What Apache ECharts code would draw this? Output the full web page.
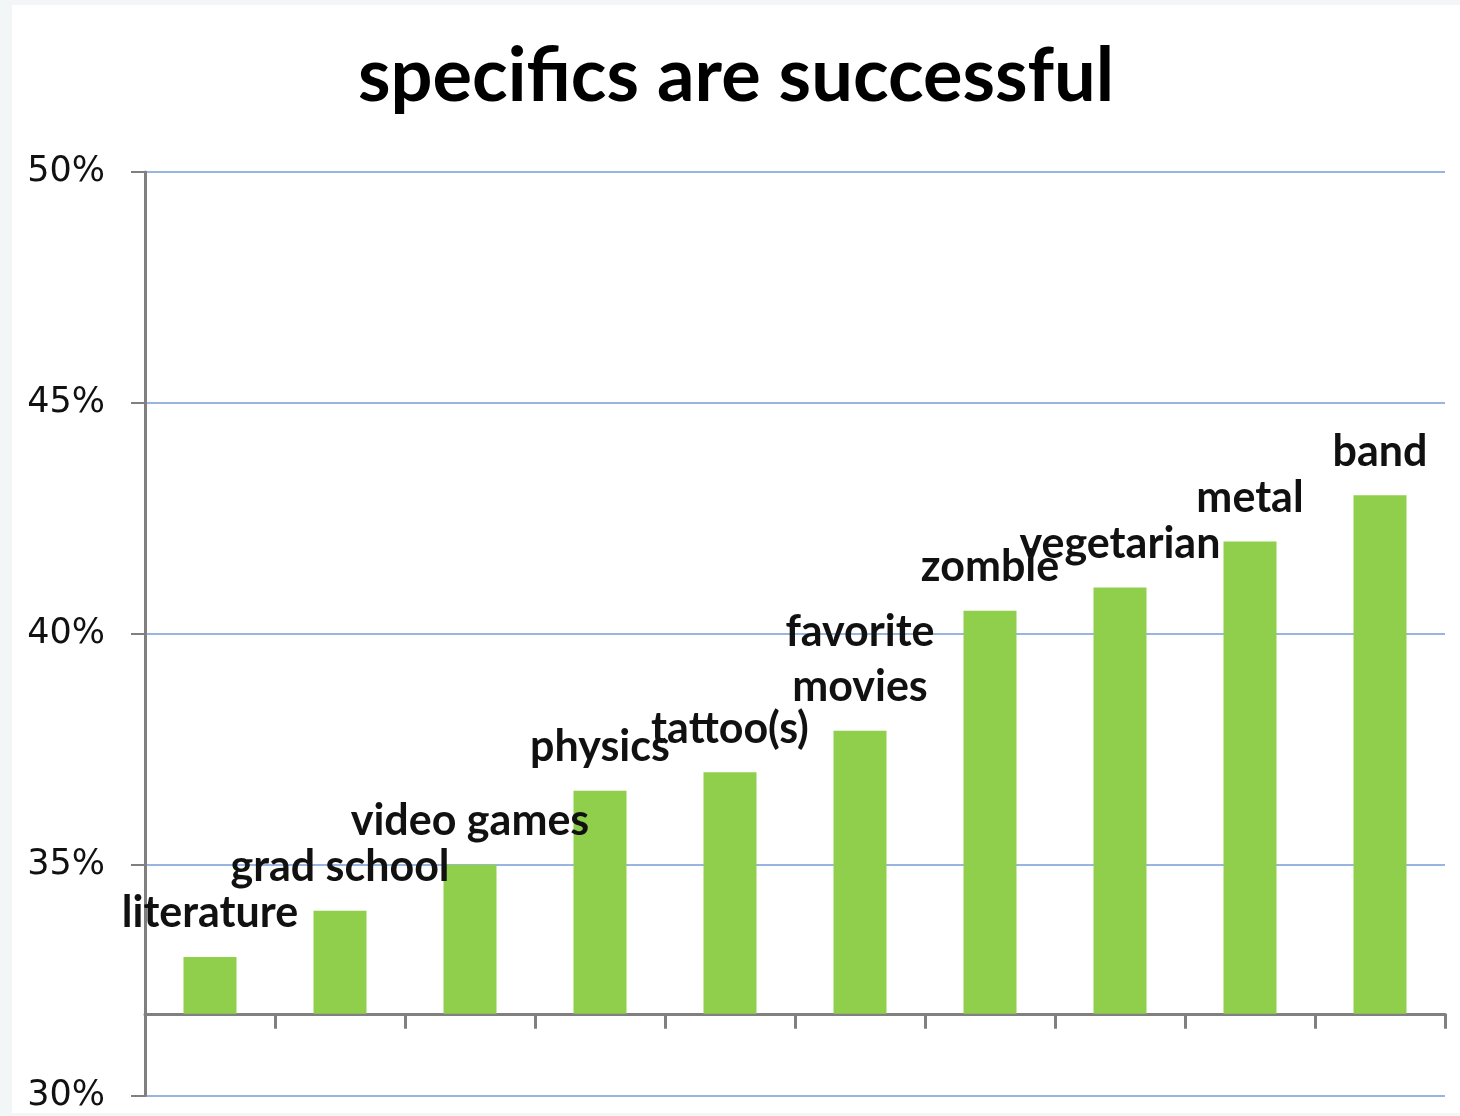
<!DOCTYPE html>
<html>
<head>
  <meta charset="UTF-8">
  <title>specifics are successful</title>
  <script src="https://cdn.jsdelivr.net/npm/echarts@6/dist/echarts.min.js"></script>
  <style>
    body {
      margin: 0;
      padding: 0;
      background: #f3f6f6;
    }

    #chart {
      position: absolute;
      left: 12px;
      top: 5px;
      width: 1448px;
      height: 1108px;
      background: #ffffff;
    }
  </style>
</head>
<body>
  <div id="chart"></div>

  <script>
    // data
    var categories = ['literature', 'grad school', 'video games', 'physics', 'tattoo(s)',
      'favorite movies', 'zombie', 'vegetarian', 'metal', 'band'];
    var shares = [33.0, 34.0, 35.0, 36.6, 37.0, 37.9, 40.5, 41.0, 42.0, 43.0];
    var axisBase = 31.77;   // where the category axis crosses the value axis
    var yTicks = [30, 35, 40, 45, 50];

    var chart = echarts.init(document.getElementById('chart'), null, { renderer: 'canvas' });

    var baseData = categories.map(function () { return axisBase; });
    var barData = shares.map(function (v) { return +(v - axisBase).toFixed(3); });

    var option = {
      animation: false,
      title: {
        text: 'specifics are successful',
        left: 'center',
        top: 30,
        textStyle: {
          fontFamily: 'Lato',
          fontWeight: 'bold',
          fontSize: 74,
          color: '#000000'
        }
      },
      grid: {
        left: 133,
        right: 15,
        top: 167,
        bottom: 16
      },
      xAxis: {
        type: 'category',
        data: categories,
        boundaryGap: true,
        axisLine: { show: true, lineStyle: { color: '#808080', width: 3 } },
        axisTick: { show: true, length: 15, lineStyle: { color: '#808080', width: 3 } },
        axisLabel: { show: false },
        splitLine: { show: false }
      },
      yAxis: {
        type: 'value',
        min: yTicks[0],
        max: yTicks[yTicks.length - 1],
        interval: 5,
        axisLine: { show: true, lineStyle: { color: '#808080', width: 3 } },
        axisTick: { show: true, length: 14, lineStyle: { color: '#808080', width: 2 } },
        axisLabel: {
          margin: 40,
          padding: [5, 0, 0, 0],
          fontFamily: 'DejaVu Sans',
          fontSize: 35,
          color: '#111111',
          formatter: '{value}%'
        },
        splitLine: { show: true, lineStyle: { color: '#98b4e0', width: 2 } }
      },
      series: [
        {
          type: 'bar',
          stack: 'share',
          data: baseData,
          barWidth: 53,
          itemStyle: { color: 'rgba(0,0,0,0)' },
          silent: true
        },
        {
          type: 'bar',
          stack: 'share',
          data: barData,
          barWidth: 53,
          itemStyle: { color: '#8fcf4c' },
          label: {
            show: true,
            position: 'top',
            distance: 16,
            fontFamily: 'Lato',
            fontWeight: 'bold',
            fontSize: 43,
            lineHeight: 55,
            color: '#111111',
            formatter: function (p) {
              return p.name === 'favorite movies' ? 'favorite\nmovies' : p.name;
            }
          }
        }
      ]
    };

    chart.setOption(option);

    // lift the category axis up to the crossing value
    var yBase = chart.convertToPixel({ yAxisIndex: 0 }, axisBase);
    var yMin = chart.convertToPixel({ yAxisIndex: 0 }, yTicks[0]);
    chart.setOption({ xAxis: { offset: -(yMin - yBase) } });
  </script>
</body>
</html>
